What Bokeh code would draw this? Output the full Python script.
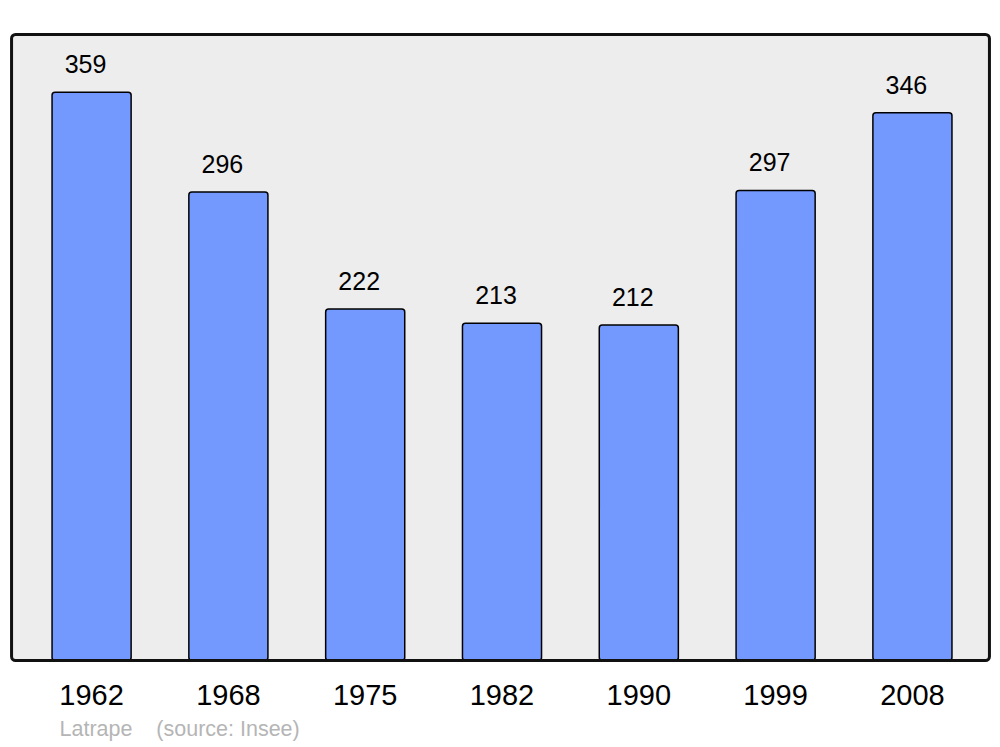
from bokeh.plotting import figure
from bokeh.models import ColumnDataSource, LabelSet, BoxAnnotation, FixedTicker, Range1d, Title
from bokeh.core.properties import value
from bokeh.embed import file_html
from bokeh.resources import INLINE

years = ["1962", "1968", "1975", "1982", "1990", "1999", "2008"]
population = [359, 296, 222, 213, 212, 297, 346]
value_labels = [str(v) for v in population]
source_text = "Latrape\u00a0\u00a0\u00a0\u00a0(source: Insee)"

idx = list(range(len(years)))
src = ColumnDataSource(dict(x=idx, top=population, label=value_labels))

bx0, bx1 = -0.585, 6.563
by0, by1 = 0, 395.5
x0, x1 = -0.600, 6.578
y0, y1 = -1.26, 396.76

p = figure(width=992, height=747, output_backend="svg", toolbar_location=None,
           x_range=Range1d(x0, x1), y_range=Range1d(y0, y1),
           y_axis_location=None, min_border_left=9, min_border_right=1,
           min_border_top=32, min_border_bottom=85)
p.background_fill_color = None
p.border_fill_color = "white"
p.outline_line_color = None
p.xgrid.visible = False
p.ygrid.visible = False

bg = BoxAnnotation(left=bx0, right=bx1, bottom=by0, top=by1, fill_color="#ededed", fill_alpha=1,
                   line_color=None, level="underlay", border_radius=4)
p.add_layout(bg)

p.vbar(x="x", top="top", bottom=0, width=0.578, source=src, fill_color="#7399ff",
       line_color="black", line_width=1.5, border_radius=3)

border = BoxAnnotation(left=bx0, right=bx1, bottom=by0, top=by1, fill_alpha=0,
                       line_color="#111111", line_width=3, line_alpha=1, border_radius=4)
p.add_layout(border)

labels = LabelSet(x="x", y="top", text="label", source=src, y_offset=28, x_offset=-6,
                  text_align="center", text_baseline="middle", text_font=value("Liberation Sans"),
                  text_font_size="25px", text_color="black")
p.add_layout(labels)

p.xaxis.ticker = FixedTicker(ticks=idx)
p.xaxis.major_label_overrides = {i: y for i, y in zip(idx, years)}
p.xaxis.axis_line_color = None
p.xaxis.major_tick_line_color = None
p.xaxis.minor_tick_line_color = None
p.xaxis.major_label_standoff = 16
p.xaxis.major_label_text_font = "Liberation Sans"
p.xaxis.major_label_text_font_size = "29px"
p.xaxis.major_label_text_color = "black"

note = Title(text=source_text, align="left", offset=50, text_font="Liberation Sans",
             text_font_size="21.5px", text_color="#b5b5b5", text_font_style="normal",
             standoff=14)
p.add_layout(note, "below")

open("out.html", "w").write(file_html(p, INLINE))
